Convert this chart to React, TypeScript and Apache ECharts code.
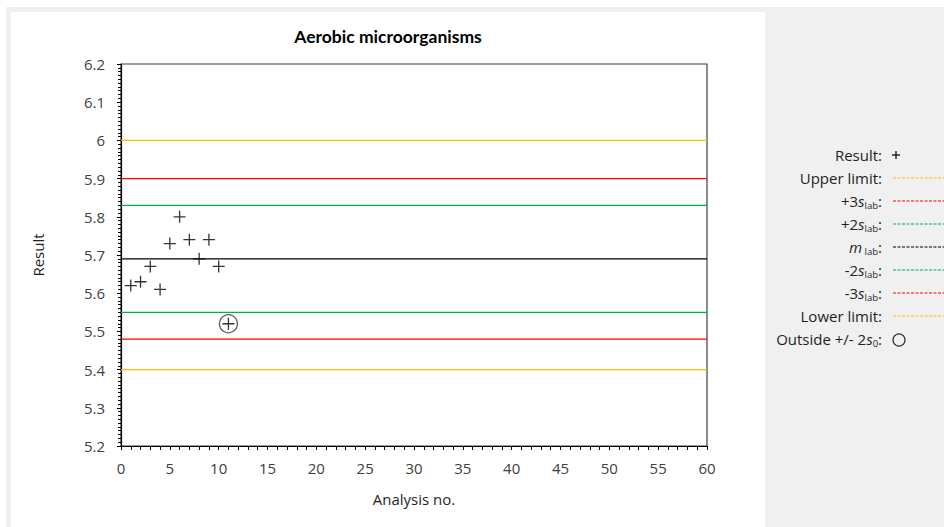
import React, { useEffect, useRef } from "react";
import * as echarts from "echarts";

const analysisNo = [1, 2, 3, 4, 5, 6, 7, 8, 9, 10, 11];
const results = [5.62, 5.63, 5.67, 5.61, 5.73, 5.8, 5.74, 5.69, 5.74, 5.67, 5.52];
const outsideIdx = [10];

const upperLimit = 6.0;
const plus3s = 5.9;
const plus2s = 5.83;
const meanLab = 5.69;
const minus2s = 5.55;
const minus3s = 5.48;
const lowerLimit = 5.4;

const xRange = [0, 60];
const yRange = [5.2, 6.2];

const YELLOW = "#FFC000";
const RED = "#FF0000";
const GREEN = "#00B050";
const BLACK = "#000000";

const limitLines = [
  { name: "Upper limit", value: upperLimit, color: YELLOW },
  { name: "+3s", value: plus3s, color: RED },
  { name: "+2s", value: plus2s, color: GREEN },
  { name: "m", value: meanLab, color: BLACK },
  { name: "-2s", value: minus2s, color: GREEN },
  { name: "-3s", value: minus3s, color: RED },
  { name: "Lower limit", value: lowerLimit, color: YELLOW },
];

const legendRows = [
  { label: "Result:", kind: "plus", color: BLACK },
  { label: "Upper limit:", kind: "line", color: YELLOW },
  { label: "+3{it|s}{sub|lab}:", kind: "line", color: RED },
  { label: "+2{it|s}{sub|lab}:", kind: "line", color: GREEN },
  { label: "{it|m}{sub| lab}:", kind: "line", color: BLACK },
  { label: "-2{it|s}{sub|lab}:", kind: "line", color: GREEN },
  { label: "-3{it|s}{sub|lab}:", kind: "line", color: RED },
  { label: "Lower limit:", kind: "line", color: YELLOW },
  { label: "Outside +/- 2{it|s}{sub|0}:", kind: "circle", color: "#333" },
];

const FONT = "'Open Sans', 'Noto Sans', sans-serif";
const TITLE_FONT = "Lato, 'Liberation Sans', sans-serif";
const FS = 15;
const PLUS = "path://M0,6L12,6M6,0L6,12";

export default function App() {
  const ref = useRef<HTMLDivElement>(null);
  useEffect(() => {
    document.body.style.margin = "0";
    const chart = echarts.init(ref.current!, null, { renderer: "svg" });

    const legendGraphics: any[] = [];
    const legTop = 155;
    const legStep = 23;
    legendRows.forEach((r, i) => {
      const y = legTop + i * legStep;
      legendGraphics.push({
        type: "text",
        x: 882,
        y: y,
        style: {
          text: r.label,
          align: "right",
          verticalAlign: "middle",
          fontFamily: FONT,
          fontSize: FS,
          fill: "#1f1f1f",
          rich: {
            it: { fontStyle: "italic", fontFamily: FONT, fontSize: FS, fill: "#1f1f1f" },
            sub: { fontSize: 9.5, fontFamily: FONT, fill: "#1f1f1f", padding: [8, 0, 0, 0] },
          },
        },
      });
      if (r.kind === "line") {
        legendGraphics.push({
          type: "line",
          shape: { x1: 893, y1: y, x2: 944, y2: y },
          style: { stroke: r.color, lineWidth: 1, lineDash: [3, 1.5] },
        });
      } else if (r.kind === "plus") {
        legendGraphics.push({
          type: "line",
          shape: { x1: 892, y1: y, x2: 900, y2: y },
          style: { stroke: BLACK, lineWidth: 1.2 },
        });
        legendGraphics.push({
          type: "line",
          shape: { x1: 896, y1: y - 4, x2: 896, y2: y + 4 },
          style: { stroke: BLACK, lineWidth: 1.2 },
        });
      } else {
        legendGraphics.push({
          type: "circle",
          shape: { cx: 899, cy: y + 1, r: 6 },
          style: { fill: "none", stroke: "#333", lineWidth: 1.2 },
        });
      }
    });

    const lineSeries = limitLines.map((l) => ({
      type: "line",
      name: l.name,
      data: [
        [xRange[0], l.value],
        [xRange[1], l.value],
      ],
      showSymbol: false,
      silent: true,
      lineStyle: { color: l.color, width: 1.3 },
      z: 2,
    }));

    chart.setOption({
      animation: false,
      backgroundColor: "#ffffff",
      title: {
        text: "Aerobic microorganisms",
        left: 383,
        top: 22,
        textAlign: "center",
        textStyle: { fontFamily: TITLE_FONT, fontWeight: "bold", fontSize: 17.5, color: "#000" },
      },
      grid: {
        left: 121,
        right: 944 - 707,
        top: 64,
        bottom: 527 - 446,
        show: true,
        borderColor: "#404040",
        borderWidth: 1.2,
        backgroundColor: "transparent",
      },
      xAxis: {
        type: "value",
        min: xRange[0],
        max: xRange[1],
        interval: 5,
        name: "Analysis no.",
        nameLocation: "middle",
        nameGap: 45,
        nameTextStyle: { fontFamily: FONT, fontSize: FS, color: "#1f1f1f" },
        axisLine: { show: true, onZero: false, lineStyle: { color: "#000", width: 1.2 } },
        axisTick: { show: true, inside: false, length: 4, lineStyle: { color: "#000" } },
        minorTick: { show: true, splitNumber: 5, length: 4, lineStyle: { color: "#000" } },
        splitLine: { show: false },
        axisLabel: { fontFamily: FONT, fontSize: FS, color: "#404040", margin: 14 },
      },
      yAxis: {
        type: "value",
        min: yRange[0],
        max: yRange[1],
        interval: 0.1,
        name: "Result",
        nameLocation: "middle",
        nameGap: 76,
        nameRotate: 90,
        nameTextStyle: { fontFamily: FONT, fontSize: FS, color: "#1f1f1f" },
        axisLine: { show: true, onZero: false, lineStyle: { color: "#000", width: 1.2 } },
        axisTick: { show: true, inside: false, length: 4, lineStyle: { color: "#000" } },
        minorTick: { show: true, splitNumber: 10, length: 3, lineStyle: { color: "#000" } },
        splitLine: { show: false },
        axisLabel: {
          fontFamily: FONT,
          fontSize: FS,
          color: "#404040",
          margin: 16,
          formatter: (v: number) => String(parseFloat(v.toFixed(1))),
        },
      },
      graphic: [
        {
          type: "rect",
          shape: { x: 6, y: 7, width: 938, height: 520 },
          style: { fill: "#f0f0f0" },
          z: -100,
          silent: true,
        },
        {
          type: "rect",
          shape: { x: 11, y: 12, width: 754, height: 515 },
          style: { fill: "#ffffff" },
          z: -99,
          silent: true,
        },
        ...legendGraphics,
      ],
      series: [
        ...lineSeries,
        {
          type: "scatter",
          name: "Result",
          data: analysisNo.map((n, i) => [n, results[i]]),
          symbol: PLUS,
          symbolSize: 12,
          symbolKeepAspect: true,
          itemStyle: { color: "transparent", borderColor: "#000", borderWidth: 1.3 },
          z: 5,
        },
        {
          type: "scatter",
          name: "Outside",
          data: outsideIdx.map((i) => [analysisNo[i], results[i]]),
          symbol: "circle",
          symbolSize: 18,
          itemStyle: { color: "transparent", borderColor: "#333", borderWidth: 1.3 },
          z: 6,
        },
      ],
    });
    return () => chart.dispose();
  }, []);
  return <div ref={ref} style={{ width: 944, height: 527 }} />;
}
